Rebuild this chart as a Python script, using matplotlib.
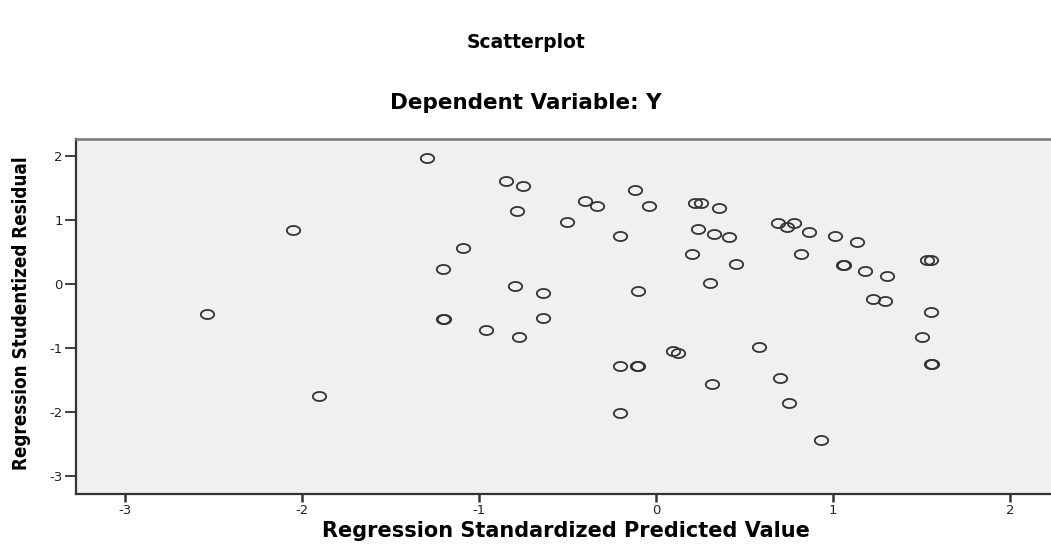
import numpy as np
import matplotlib
matplotlib.use("Agg")
import matplotlib.pyplot as plt
from matplotlib.path import Path
from matplotlib.markers import MarkerStyle

# Data
pred_x = [-2.537, -2.053, -1.904, -1.295, -1.202, -1.202, -1.196, -1.089, -0.962, -0.847,
          -0.795, -0.785, -0.774, -0.753, -0.640, -0.640, -0.505, -0.401, -0.335, -0.205,
          -0.205, -0.205, -0.119, -0.100, -0.109, -0.104, -0.041, 0.098, 0.122, 0.203,
          0.220, 0.253, 0.235, 0.307, 0.316, 0.326, 0.358, 0.410, 0.452, 0.584,
          0.689, 0.699, 0.742, 0.753, 0.780, 0.817, 0.866, 0.930, 1.013, 1.055,
          1.060, 1.138, 1.179, 1.228, 1.294, 1.303, 1.501, 1.529, 1.554, 1.554,
          1.554, 1.558]
resid_y = [-0.46, 0.84, -1.75, 1.97, 0.245, -0.55, -0.545, 0.56, -0.72, 1.61,
           -0.03, 1.15, -0.83, 1.53, -0.135, -0.535, 0.97, 1.30, 1.23, 0.755,
           -1.28, -2.02, 1.48, -0.11, -1.28, -1.28, 1.22, -1.04, -1.07, 0.475,
           1.27, 1.27, 0.865, 0.016, -1.56, 0.79, 1.19, 0.745, 0.31, -0.98,
           0.96, -1.47, 0.90, -1.86, 0.95, 0.475, 0.82, -2.44, 0.755, 0.30,
           0.30, 0.66, 0.21, -0.234, -0.26, 0.13, -0.82, 0.385, 0.375, -0.44,
           -1.25, -1.25]
x_ticks = [-3, -2, -1, 0, 1, 2]
y_ticks = [-3, -2, -1, 0, 1, 2]

fig = plt.figure(figsize=(10.51, 5.5), dpi=100)
ax = fig.add_axes([76/1051, 1-494/550, 1-76/1051, (494-139)/550])
ax.set_facecolor('#f0f0f0')

# elliptical open marker
t = np.linspace(0, 2*np.pi, 65)
verts = np.column_stack([np.cos(t), 0.68*np.sin(t)])
ell = MarkerStyle(Path(verts, closed=True))
ax.plot(pred_x, resid_y, linestyle='none', marker=ell, markersize=9.6,
        markerfacecolor='none', markeredgecolor='#333333', markeredgewidth=1.3)

ax.set_xlim(-3.277, 2.232)
ax.set_ylim(-3.28, 2.27)
ax.set_xticks(x_ticks)
ax.set_yticks(y_ticks)
ax.set_xticklabels([str(v) for v in x_ticks])
ax.set_yticklabels([str(v) for v in y_ticks])
ax.tick_params(axis='y', direction='out', length=8, width=1.3, color='#333333',
               labelsize=9.5, pad=1.5, labelcolor='#222222')
ax.tick_params(axis='x', direction='out', length=6, width=1.8, color='#333333',
               labelsize=9.5, pad=1, labelcolor='#222222')

for side in ['left', 'bottom']:
    ax.spines[side].set_color('#333333')
    ax.spines[side].set_linewidth(1.6)
ax.spines['top'].set_color('#777777')
ax.spines['top'].set_linewidth(1.8)
ax.spines['right'].set_visible(False)

ax.set_xlabel('Regression Standardized Predicted Value', fontsize=15,
              fontweight='bold')
ax.xaxis.set_label_coords((566-76)/(1051-76), -(531-494)/(494-139))
ax.xaxis.label.set_va('center')

ax.set_ylabel('Regression Studentized Residual', fontsize=13.5, fontweight='bold',
              fontstretch='condensed', family=['DejaVu Sans'])
ax.yaxis.set_label_coords(-(76-22)/(1051-76), (494-313)/(494-139))
ax.yaxis.label.set_va('center')

fig.text(0.5, 1-43/550, 'Scatterplot', ha='center', va='center',
         fontsize=13.5, fontweight='bold')
fig.text(0.5, 1-103/550, 'Dependent Variable: Y', ha='center', va='center',
         fontsize=15.5, fontweight='bold')

fig.savefig('out.png', dpi=100)
